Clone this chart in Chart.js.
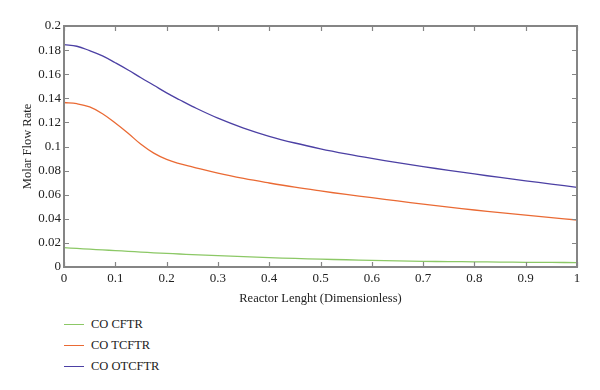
<!DOCTYPE html>
<html>
<head>
<meta charset="utf-8">
<script src="https://cdn.jsdelivr.net/npm/chart.js@4/dist/chart.umd.min.js"></script>
<style>
  html, body { margin: 0; padding: 0; background: #fff; }
  #wrap { position: relative; width: 600px; height: 390px; }
  #c { position: absolute; left: 0; top: 0; }
  #legend { position: absolute; left: 64px; top: 314px; font-family: "Liberation Serif", serif; font-size: 12.5px; color: #222; }
  .item { display: flex; align-items: center; height: 21px; }
  .swatch { width: 20px; height: 0; border-top: 1.4px solid; margin-right: 7px; }
</style>
</head>
<body>
<div id="wrap">
  <canvas id="c" width="600" height="306"></canvas>
  <div id="legend"></div>
</div>
<script>
const xs = [0,0.025,0.05,0.075,0.1,0.125,0.15,0.175,0.2,0.225,0.25,0.3,0.35,0.4,0.45,0.5,0.55,0.6,0.65,0.7,0.75,0.8,0.85,0.9,0.95,1];
const coCFTR = [0.016,0.0154,0.0148,0.0142,0.0136,0.013,0.0124,0.0118,0.0113,0.0108,0.0103,0.0094,0.0086,0.0078,0.0071,0.0065,0.006,0.0055,0.0051,0.0047,0.0045,0.0043,0.0041,0.0039,0.0038,0.0037];
const coTCFTR = [0.1365,0.1355,0.1328,0.1272,0.1195,0.111,0.1018,0.0945,0.0893,0.0858,0.0831,0.0779,0.0735,0.0697,0.0662,0.0631,0.0602,0.0575,0.0548,0.0522,0.0497,0.0473,0.0451,0.043,0.041,0.039];
const coOTCFTR = [0.1845,0.1832,0.1795,0.1752,0.1695,0.1635,0.157,0.1508,0.1445,0.1388,0.1333,0.1235,0.1153,0.1085,0.1029,0.0981,0.0939,0.0901,0.0866,0.0833,0.0802,0.0772,0.0743,0.0715,0.0688,0.0661];
const seriesNames = ["CO CFTR", "CO TCFTR", "CO OTCFTR"];
const seriesColors = ["#8cc866", "#ea6a34", "#4c40a4"];
const xTickLabels = ["0","0.1","0.2","0.3","0.4","0.5","0.6","0.7","0.8","0.9","1"];
const yTickLabels = ["0","0.02","0.04","0.06","0.08","0.1","0.12","0.14","0.16","0.18","0.2"];
const xTitle = "Reactor Lenght (Dimensionless)";
const yTitle = "Molar Flow Rate";

const seriesValues = [coCFTR, coTCFTR, coOTCFTR];
const FONT = { family: "'Liberation Serif', serif", size: 13 };
const TFONT = { family: "'Liberation Serif', serif", size: 12.5 };
const AXIS = "#858585";

const framePlugin = {
  id: 'frame',
  afterDatasetsDraw(chart) {
    const { ctx, chartArea: a, scales } = chart;
    ctx.save();
    ctx.strokeStyle = AXIS;
    ctx.lineWidth = 1.2;
    const L = 5;
    scales.x.ticks.forEach(t => {
      const px = Math.round(scales.x.getPixelForValue(t.value)) + 0.5;
      ctx.beginPath();
      ctx.moveTo(px, a.bottom); ctx.lineTo(px, a.bottom - L);
      ctx.moveTo(px, a.top); ctx.lineTo(px, a.top + L);
      ctx.stroke();
    });
    scales.y.ticks.forEach(t => {
      const py = Math.round(scales.y.getPixelForValue(t.value)) + 0.5;
      ctx.beginPath();
      ctx.moveTo(a.left, py); ctx.lineTo(a.left + L, py);
      ctx.moveTo(a.right, py); ctx.lineTo(a.right - L, py);
      ctx.stroke();
    });
    ctx.lineWidth = 2;
    ctx.strokeRect(a.left, a.top, a.right - a.left, a.bottom - a.top);
    ctx.restore();
  }
};

const chart = new Chart(document.getElementById('c'), {
  type: 'line',
  data: {
    datasets: seriesNames.map((n, i) => ({
      label: n,
      data: xs.map((x, j) => ({ x: x, y: seriesValues[i][j] })),
      borderColor: seriesColors[i],
      backgroundColor: seriesColors[i],
      borderWidth: 1.3,
      pointRadius: 0,
      fill: false,
      tension: 0.4
    }))
  },
  options: {
    responsive: false,
    animation: false,
    devicePixelRatio: 1,
    layout: { padding: { left: 0, right: 23, top: 26, bottom: 0 } },
    plugins: { legend: { display: false }, tooltip: { enabled: false } },
    scales: {
      x: {
        type: 'linear', min: 0, max: 1,
        grid: { display: false, drawTicks: false },
        border: { display: false },
        ticks: { stepSize: 0.1, padding: 4, color: '#222', font: FONT, maxRotation: 0,
                 callback: (v, i) => xTickLabels[i] },
        title: { display: true, text: xTitle, color: '#222', font: TFONT, padding: { top: 4, bottom: 0 } },
        afterFit: s => { s.height = 306 - 267; }
      },
      y: {
        min: 0, max: 0.2,
        grid: { display: false, drawTicks: false },
        border: { display: false },
        ticks: { stepSize: 0.02, padding: 3, color: '#222', font: FONT,
                 callback: (v, i) => yTickLabels[i] },
        title: { display: true, text: yTitle, color: '#222', font: TFONT, padding: { top: 20, bottom: 0 } },
        afterFit: s => { s.width = 64; }
      }
    }
  },
  plugins: [framePlugin]
});

const leg = document.getElementById('legend');
chart.data.datasets.forEach(ds => {
  const row = document.createElement('div');
  row.className = 'item';
  const sw = document.createElement('span');
  sw.className = 'swatch';
  sw.style.borderTopColor = ds.borderColor;
  const tx = document.createElement('span');
  tx.textContent = ds.label;
  row.appendChild(sw); row.appendChild(tx);
  leg.appendChild(row);
});
</script>
</body>
</html>
